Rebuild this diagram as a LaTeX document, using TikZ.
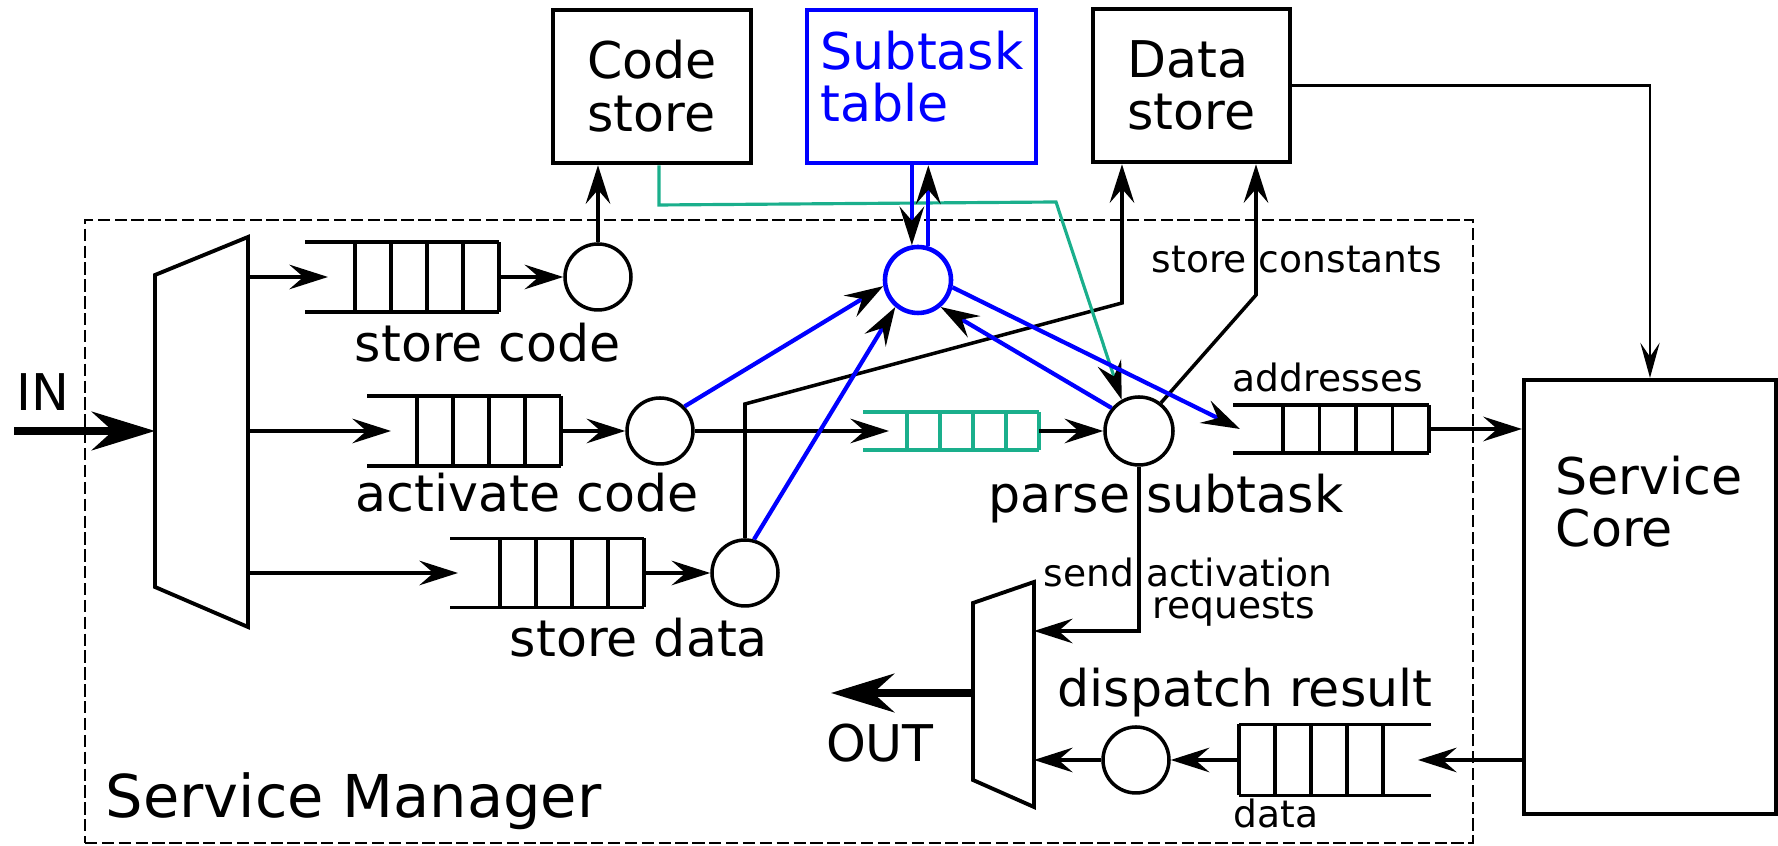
\documentclass[tikz,border=0pt]{standalone}
\usepackage{fontspec}
\setmainfont{DejaVu Sans}
\usetikzlibrary{arrows.meta}

\definecolor{fifogreen}{RGB}{26,175,140}

% FIFO: name, open end x, centre y, open length, cell width, height, tip offset, colour
\newcommand{\fifo}[8]{%
  \begin{scope}[shift={(#2,#3)}]
    \draw[fifoline,#8] (0,{-(#6)/2}) -- ({#4+4*(#5)},{-(#6)/2});
    \draw[fifoline,#8] (0,{(#6)/2}) -- ({#4+4*(#5)},{(#6)/2});
    \foreach \k in {0,...,4}
      \draw[fifoline,#8] ({#4+\k*(#5)},{-(#6)/2}) -- ({#4+\k*(#5)},{(#6)/2});
    \coordinate (#1-in) at (#7,0);
    \coordinate (#1-out) at ({#4+4*(#5)},0);
  \end{scope}}

\tikzset{
  bigtext/.style={font=\fontsize{14.4pt}{15pt}\selectfont, inner sep=0pt},
  smalltext/.style={font=\fontsize{10.7pt}{11pt}\selectfont, inner sep=0pt},
  hugetext/.style={font=\fontsize{16.8pt}{18pt}\selectfont, inner sep=0pt},
  store/.style={draw, line width=1.3pt, minimum width=19.8mm, minimum height=15.3mm,
    align=left, bigtext},
  proc/.style={circle, draw, line width=1pt, minimum size=6.6mm, inner sep=0pt},
  frame/.style={draw, line width=0.45pt, dash pattern=on 3.5pt off 1.3pt},
  fifoline/.style={line width=1.1pt},
  mux/.style={draw, line width=1.1pt, line join=miter},
  flow/.style={line width=1pt, -{Stealth[length=11pt,width=7pt,inset=4pt]}},
  thinflow/.style={line width=0.8pt, -{Stealth[length=10pt,width=5.5pt,inset=4pt]}},
  bigflow/.style={line width=2.2pt, -{Stealth[length=18pt,width=11pt,inset=6pt]}},
  blueflow/.style={blue, line width=1.2pt, -{Stealth[color=black,length=11pt,width=7pt,inset=4pt]}},
  greenflow/.style={fifogreen, line width=0.9pt, -{Stealth[color=black,length=11pt,width=7pt,inset=4pt]}}
}

\begin{document}
\begin{tikzpicture}[x=0.1mm, y=-0.1mm]
  \useasboundingbox (0,0) rectangle (1778,846);

  % manager frame
  \node[frame, minimum width=138.8mm, minimum height=62.3mm] (manager) at (779,531.5) {};
  \node[hugetext, anchor=base west] (lmanager) at (105,818) {Service Manager};

  % stores and core
  \node[store] (codestore) at (652,86.5) {Code\\store};
  \node[store, draw=blue, minimum width=22.9mm] (subtask) at (921.5,86.5) {};
  \node[bigtext, blue, anchor=north west, align=left] (lsubtask) at (820,30) {Subtask\\table};
  \node[store, minimum width=19.7mm] (datastore) at (1191.5,85.5) {Data\\store};
  \node[draw, line width=1.2pt, minimum width=25.2mm, minimum height=43.4mm] (score) at (1650,597) {};
  \node[bigtext, anchor=north west, align=left] (lscore) at (1555,455) {Service\\Core};

  % input demux and output mux
  \draw[mux] (155,275) -- (248,237) -- (248,627) -- (155,587) -- cycle;
  \coordinate (demuxL) at (155,431);
  \coordinate (demuxR) at (248,431);
  \draw[mux] (973,603) -- (1034,582) -- (1034,807) -- (973,780) -- cycle;
  \coordinate (omuxL) at (973,693);
  \coordinate (omuxR) at (1034,693);
  \coordinate (in) at (14,431);
  \coordinate (out) at (831,693);
  \node[bigtext] (lin) at (43,392) {IN};
  \node[bigtext, anchor=base] (lout) at (880,762) {OUT};

  % queues
  \fifo{qcode}{305}{277}{50}{36}{70}{23}{black}
  \fifo{qact}{367}{431}{50}{36}{70}{24}{black}
  \fifo{qdata}{450}{573}{50}{36}{69}{8}{black}
  \fifo{qsub}{863}{431}{44}{33}{38}{26}{fifogreen}
  \fifo{qaddr}{1233}{429}{50}{36.5}{48}{7}{black}
  \fifo{qres}{1431}{760}{-48}{-36}{71}{-13}{black}

  % processes
  \node[proc] (ccode) at (598,277) {};
  \node[proc] (cact) at (660,431) {};
  \node[proc] (cdata) at (745,573) {};
  \node[proc, draw=blue, line width=1.3pt] (ctable) at (918,280) {};
  \node[proc, minimum size=6.8mm] (cparse) at (1139,431) {};
  \node[proc] (cdisp) at (1136,760) {};

  \node[bigtext, anchor=base] (lqcode) at (488,362) {store code};
  \node[bigtext, anchor=base] (lqact) at (527,512) {activate code};
  \node[bigtext, anchor=base] (lqdata) at (639,657) {store data};
  \node[bigtext, anchor=base] (lparse) at (1166,513) {parse subtask};
  \node[bigtext, anchor=base] (ldisp) at (1245,707) {dispatch result};
  \node[smalltext, anchor=base] (lconst) at (1297,273) {store constants};
  \node[smalltext, anchor=base] (laddr) at (1328,392) {addresses};
  \node[smalltext, anchor=base west] (lsend) at (1043,587) {send activation};
  \node[smalltext, anchor=base west] (lreq) at (1152,619) {requests};
  \node[smalltext, anchor=base] (lres) at (1276,828) {data};

  % main flow
  \draw[bigflow] (in) -- (demuxL);
  \draw[flow] (demuxR |- qcode-in) -- (qcode-in);
  \draw[flow] (demuxR |- qact-in) -- (qact-in);
  \draw[flow] (demuxR |- qdata-in) -- (qdata-in);
  \draw[flow] (qcode-out) -- (ccode);
  \draw[flow] (qact-out) -- (cact);
  \draw[flow] (qdata-out) -- (cdata);
  \draw[flow] (cact) -- (qsub-in);
  \draw[flow] (qsub-out) -- (cparse);
  \draw[flow] (ccode) -- (ccode |- codestore.south);
  \draw[flow] (qaddr-out) -- (qaddr-out -| score.west);
  \draw[flow] (qres-in -| score.west) -- (qres-in);
  \draw[flow] (qres-out) -- (cdisp);
  \draw[flow] (cdisp) -- (cdisp -| omuxR);
  \coordinate (req) at (1034,631);
  \draw[flow] (cparse) |- (req);
  \draw[bigflow] (omuxL) -- (out);

  % data store writes
  \coordinate (kink1) at (745,404);
  \coordinate (kink2) at (1122,303);
  \coordinate (kink3) at (1256,295);
  \draw[flow] (cdata) -- (kink1) -- (kink2) -- (kink2 |- datastore.south);
  \draw[flow] (cparse.52) -- (kink3) -- (kink3 |- datastore.south);
  \draw[thinflow] (datastore) -| (score);

  % code lookup
  \coordinate (gA) at (659,205);
  \coordinate (gB) at (1056,202);
  \draw[greenflow] (gA |- codestore.south) -- (gA) -- (gB) -- (cparse.119);

  % subtask table access
  \draw[blueflow] (ctable.100 |- subtask.south) -- (ctable.100);
  \draw[blueflow] (ctable.73) -- (ctable.73 |- subtask.south);
  \draw[blueflow] (cact.45) -- (ctable.190);
  \draw[blueflow] (cdata.75) -- (ctable.230);
  \draw[blueflow] (cparse.140) -- (ctable.310);
  \draw[blueflow] (ctable.348) -- (qaddr-in);
\end{tikzpicture}
\end{document}
